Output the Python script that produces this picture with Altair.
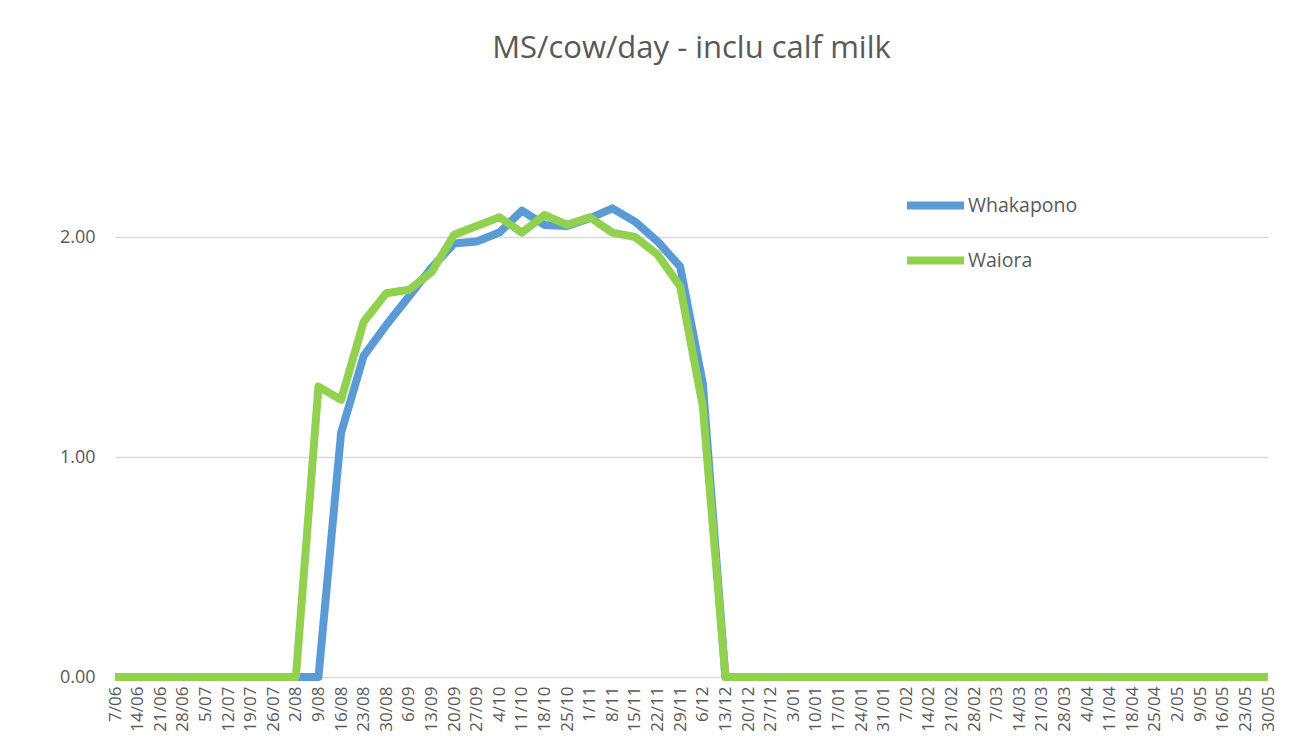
import altair as alt
import pandas as pd

weeks = ["7/06", "14/06", "21/06", "28/06", "5/07", "12/07", "19/07", "26/07",
         "2/08", "9/08", "16/08", "23/08", "30/08", "6/09", "13/09", "20/09",
         "27/09", "4/10", "11/10", "18/10", "25/10", "1/11", "8/11", "15/11",
         "22/11", "29/11", "6/12", "13/12", "20/12", "27/12", "3/01", "10/01",
         "17/01", "24/01", "31/01", "7/02", "14/02", "21/02", "28/02", "7/03",
         "14/03", "21/03", "28/03", "4/04", "11/04", "18/04", "25/04", "2/05",
         "9/05", "16/05", "23/05", "30/05"]

whakapono_peak = [1.11, 1.46, 1.60, 1.73, 1.86, 1.97, 1.98, 2.02, 2.12, 2.055,
                  2.05, 2.085, 2.13, 2.07, 1.98, 1.865, 1.335]
waiora_peak = [1.32, 1.26, 1.615, 1.744, 1.76, 1.84, 2.01, 2.05, 2.09, 2.02, 2.10,
               2.055, 2.09, 2.02, 2.00, 1.92, 1.775, 1.23]

whakapono = [0.0] * 10 + whakapono_peak + [0.0] * 25
waiora = [0.0] * 9 + waiora_peak + [0.0] * 25

series_names = ["Whakapono", "Waiora"]
series_colors = ["#5B9BD5", "#92D050"]

rows = []
for name, vals in zip(series_names, [whakapono, waiora]):
    for i, (w, v) in enumerate(zip(weeks, vals)):
        rows.append({"week": w, "value": v, "series": name, "order": i})
df = pd.DataFrame(rows)

FONT = "Open Sans"
GRAY = "#595959"

chart = alt.Chart(df).mark_line(strokeWidth=8, strokeJoin="round", strokeCap="butt").encode(
    x=alt.X("week:O", sort=weeks,
            scale=alt.Scale(type="point", padding=0),
            axis=alt.Axis(title=None, labelAngle=270, labelAlign="right", labelBaseline="middle",
                          labelFont=FONT, labelFontSize=17, labelColor=GRAY,
                          ticks=False, domain=False, labelPadding=9, labelOverlap=False,
                          grid=False)),
    y=alt.Y("value:Q", scale=alt.Scale(domain=[0, 2.5], nice=False),
            axis=alt.Axis(title=None, values=[0, 1, 2], format=".2f",
                          labelFont=FONT, labelFontSize=18, labelColor=GRAY,
                          ticks=False, domain=False, labelPadding=20,
                          grid=True, gridColor="#D9D9D9", gridWidth=1.5)),
    color=alt.Color("series:N", sort=series_names,
                    scale=alt.Scale(domain=series_names, range=series_colors),
                    legend=alt.Legend(title=None, orient="none", legendX=788, legendY=46,
                                      symbolType="stroke", symbolSize=3249, symbolStrokeWidth=8,
                                      labelFont=FONT, labelFontSize=19.5, labelColor=GRAY,
                                      labelOffset=0, rowPadding=6)),
    order="order:Q",
).properties(
    width=1153,
    height=550,
    title=alt.TitleParams("MS/cow/day - inclu calf milk", font=FONT, fontSize=31,
                          fontWeight="normal", color=GRAY, anchor="middle", offset=62),
    autosize=alt.AutoSizeParams(type="none"),
    padding={"left": 107, "top": 119, "right": 32, "bottom": 68},
    background="white",
).configure_view(strokeWidth=0)

chart.save("out.html", embed_options={"renderer": "svg", "actions": False})
